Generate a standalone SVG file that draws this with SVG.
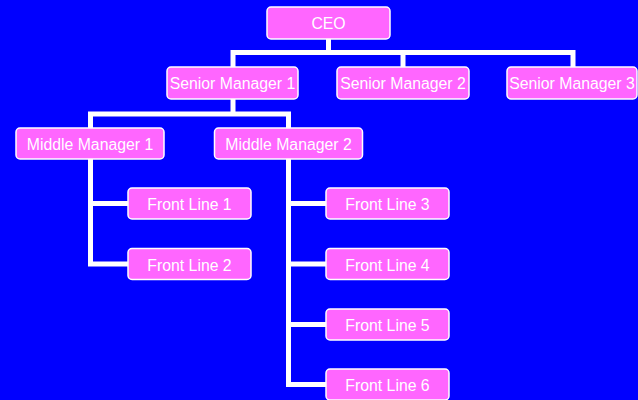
<svg xmlns="http://www.w3.org/2000/svg" width="638" height="400" viewBox="0 0 638 400">
<style>
.n rect{fill:#FF66FF;stroke:#FFFFFF;stroke-width:1.5}
.n text{fill:#FFFFFF;font-family:"Liberation Sans",Arial,sans-serif;font-size:15.8px;text-anchor:middle}
#connectors path{fill:none;stroke:#FFFFFF;stroke-width:5;stroke-linejoin:miter;stroke-linecap:butt}
</style>
<rect x="0" y="0" width="638" height="400" fill="#0000FF"/>
<g id="connectors">
<path d="M328.5 39V52.5"/>
<path d="M233 67V52.5H573V67"/>
<path d="M403 52.5V67"/>
<path d="M233 99V114"/>
<path d="M90.5 128V114H288.5V128"/>
<path d="M90.5 159V264H128"/>
<path d="M90.5 203.5H128"/>
<path d="M288.5 159V384.5H326"/>
<path d="M288.5 203.5H326"/>
<path d="M288.5 264H326"/>
<path d="M288.5 324.5H326"/>
</g>
<g id="ceo" class="n"><rect x="267" y="7" width="123" height="32" rx="4"/><text x="328.5" y="28.5">CEO</text></g>
<g id="sm1" class="n"><rect x="167" y="67" width="131" height="32" rx="4"/><text x="232.5" y="89">Senior Manager 1</text></g>
<g id="sm2" class="n"><rect x="337" y="67" width="132" height="32" rx="4"/><text x="403" y="89">Senior Manager 2</text></g>
<g id="sm3" class="n"><rect x="507" y="67" width="130" height="32" rx="4"/><text x="572" y="89">Senior Manager 3</text></g>
<g id="mm1" class="n"><rect x="16" y="128" width="148" height="31" rx="4"/><text x="90" y="149.8">Middle Manager 1</text></g>
<g id="mm2" class="n"><rect x="214.5" y="128" width="148" height="31" rx="4"/><text x="288.5" y="149.8">Middle Manager 2</text></g>
<g id="fl1" class="n"><rect x="128" y="188" width="123" height="31" rx="4"/><text x="189.5" y="210">Front Line 1</text></g>
<g id="fl2" class="n"><rect x="128" y="248.5" width="123" height="31" rx="4"/><text x="189.5" y="270.5">Front Line 2</text></g>
<g id="fl3" class="n"><rect x="326" y="188" width="123" height="31" rx="4"/><text x="387.5" y="210">Front Line 3</text></g>
<g id="fl4" class="n"><rect x="326" y="248.5" width="123" height="31" rx="4"/><text x="387.5" y="270.5">Front Line 4</text></g>
<g id="fl5" class="n"><rect x="326" y="309" width="123" height="31" rx="4"/><text x="387.5" y="331">Front Line 5</text></g>
<g id="fl6" class="n"><rect x="326" y="369" width="123" height="31" rx="4"/><text x="387.5" y="391">Front Line 6</text></g>
</svg>
